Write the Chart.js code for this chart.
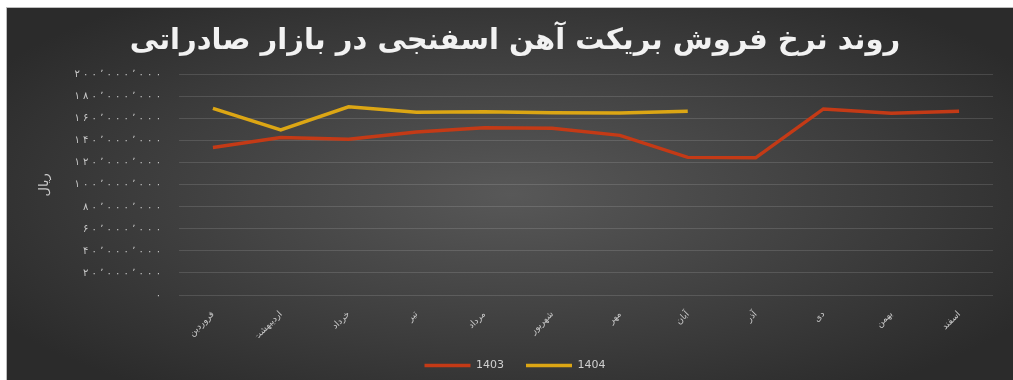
<!DOCTYPE html>
<html lang="fa">
<head>
<meta charset="utf-8">
<title>روند نرخ فروش بریکت آهن اسفنجی در بازار صادراتی</title>
<script src="https://cdn.jsdelivr.net/npm/chart.js@4.4.1/dist/chart.umd.min.js"></script>
<style>
    html, body { margin: 0; padding: 0; background: #ffffff; }
    #panel {
        position: absolute;
        left: 6px; top: 7px;
        width: 1007px; height: 373px;
        overflow: hidden;
        background: radial-gradient(ellipse 60% 65% at 50% 50%, #585858 0%, #444444 45%, #2b2b2b 100%);
        border-top: 1px solid #bdbdbd;
        border-left: 1px solid #bdbdbd;
        box-sizing: border-box;
    }
    #priceChart { display: block; }
</style>
</head>
<body>
<div id="panel">
    <canvas id="priceChart" width="1006" height="373"></canvas>
</div>
<script>
// ماه‌ها و نرخ‌ها (ریال)
const months = ['فروردین', 'اردیبهشت', 'خرداد', 'تیر', 'مرداد', 'شهریور', 'مهر', 'آبان', 'آذر', 'دی', 'بهمن', 'اسفند'];
const rates1403 = [134000000, 143000000, 141500000, 148000000, 152000000, 151500000, 145000000, 125000000, 124600000, 169000000, 165000000, 167000000];
const rates1404 = [169500000, 150000000, 171000000, 166000000, 166500000, 165600000, 165300000, 167000000, null, null, null, null];
const seriesNames = ['1403', '1404'];

const faDigits = '۰۱۲۳۴۵۶۷۸۹';
// عدد با ارقام فارسی و جداکننده هزارگان، با فاصله بین نویسه‌ها
function toPersian(n) {
    const s = Math.round(n).toString().replace(/\B(?=(\d{3})+(?!\d))/g, '٬');
    return Array.from(s.replace(/\d/g, d => faDigits[d])).join(' ');
}

const ctx = document.getElementById('priceChart').getContext('2d');

new Chart(ctx, {
    type: 'line',
    data: {
        labels: months,
        datasets: [
            {
                label: seriesNames[0],
                data: rates1403,
                borderColor: '#c43a16',
                backgroundColor: '#c43a16',
                borderWidth: 3.5,
                pointRadius: 0,
                tension: 0
            },
            {
                label: seriesNames[1],
                data: rates1404,
                borderColor: '#dca614',
                backgroundColor: '#dca614',
                borderWidth: 3.5,
                pointRadius: 0,
                tension: 0
            }
        ]
    },
    options: {
        responsive: false,
        animation: false,
        layout: { padding: { left: 30, right: 20, top: 10, bottom: 0 } },
        scales: {
            x: {
                offset: true,
                afterFit: s => { s.height = 43; },
                grid: { display: false },
                border: { display: false },
                ticks: {
                    color: '#c8c8c8',
                    font: { family: 'DejaVu Sans', size: 9 },
                    minRotation: 45,
                    maxRotation: 45,
                    padding: 6
                }
            },
            y: {
                min: 0,
                max: 200000000,
                afterFit: s => { s.width = 142; },
                grid: { color: 'rgba(255,255,255,0.13)', drawTicks: false },
                border: { display: false },
                ticks: {
                    stepSize: 20000000,
                    color: '#c8c8c8',
                    font: { family: 'DejaVu Sans', size: 10 },
                    padding: 18,
                    callback: v => toPersian(v)
                },
                title: {
                    display: true,
                    text: 'ریال',
                    color: '#c8c8c8',
                    font: { family: 'DejaVu Sans', size: 13 },
                    padding: 0
                }
            }
        },
        plugins: {
            title: {
                display: true,
                text: 'روند نرخ فروش بریکت آهن اسفنجی در بازار صادراتی',
                color: '#f2f2f2',
                font: { family: 'DejaVu Sans', size: 29, weight: 'bold' },
                padding: { top: 6, bottom: 16 }
            },
            legend: {
                position: 'bottom',
                labels: {
                    color: '#d0d0d0',
                    font: { family: 'DejaVu Sans', size: 11 },
                    usePointStyle: true,
                    pointStyle: 'line',
                    pointStyleWidth: 46,
                    boxHeight: 8,
                    padding: 22
                }
            },
            tooltip: { enabled: false }
        }
    }
});
</script>
</body>
</html>
